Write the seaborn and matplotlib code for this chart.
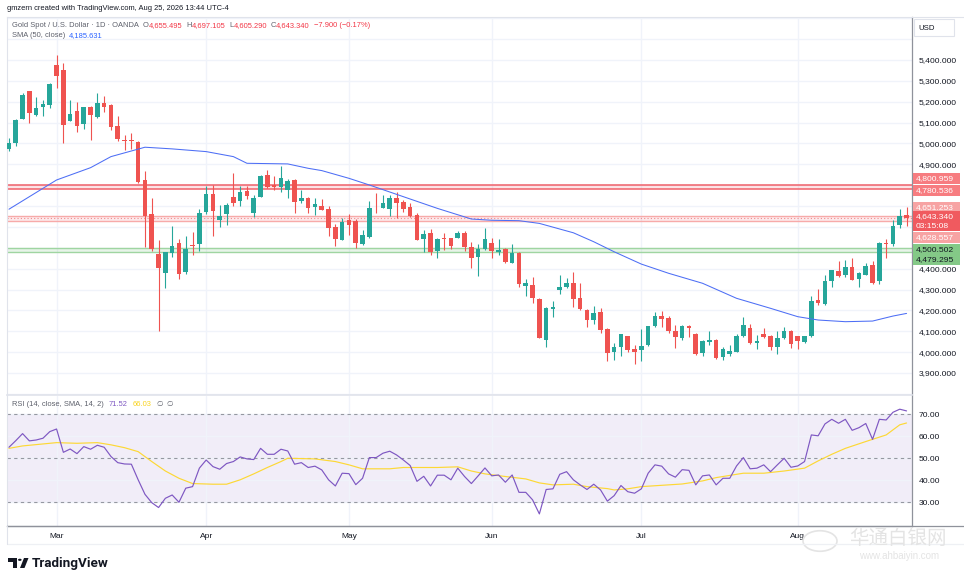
import numpy as np
import pandas as pd
import matplotlib
matplotlib.use("Agg")
import matplotlib.pyplot as plt
import seaborn as sns
from matplotlib.patches import Rectangle, Polygon, Circle
from matplotlib.lines import Line2D

# ---------------- data ----------------
opens = [4973, 5003, 5118, 5250, 5136, 5176, 5184, 5376, 5352, 5109,
         5155, 5093, 5176, 5126, 5193, 5184, 5086, 5016, 5016, 5006,
         4824, 4661, 4472, 4379, 4475, 4522, 4384, 4512, 4518, 4670,
         4758, 4635, 4661, 4744, 4726, 4774, 4667, 4744, 4849, 4803,
         4792, 4779, 4825, 4725, 4741, 4696, 4700, 4684, 4599, 4538,
         4633, 4628, 4519, 4551, 4693, 4693, 4687, 4741, 4719, 4695,
         4657, 4541, 4570, 4485, 4545, 4546, 4549, 4570, 4505, 4455,
         4493, 4522, 4481, 4493, 4428, 4473, 4319, 4324, 4253, 4058,
         4207, 4298, 4310, 4329, 4258, 4201, 4154, 4191, 4110, 4002,
         4027, 4078, 4015, 4012, 4036, 4124, 4175, 4163, 4100, 4070,
         4124, 4089, 3996, 4049, 4060, 3977, 3993, 4003, 4076, 4118,
         4044, 4089, 4078, 4025, 4068, 4102, 4076, 4049, 4076, 4249,
         4233, 4340, 4388, 4369, 4407, 4351, 4372, 4417, 4342, 4524,
         4516, 4609, 4655.495]
highs = [5024, 5115, 5240, 5253, 5221, 5208, 5288, 5424, 5384, 5208,
         5198, 5176, 5179, 5243, 5227, 5187, 5131, 5040, 5048, 5011,
         4867, 4738, 4536, 4480, 4603, 4544, 4555, 4576, 4688, 4797,
         4800, 4707, 4715, 4859, 4798, 4795, 4752, 4848, 4872, 4843,
         4893, 4829, 4832, 4776, 4745, 4741, 4732, 4700, 4612, 4645,
         4661, 4637, 4585, 4724, 4765, 4753, 4751, 4769, 4729, 4717,
         4665, 4585, 4590, 4549, 4572, 4546, 4580, 4580, 4527, 4516,
         4594, 4545, 4541, 4498, 4516, 4481, 4351, 4362, 4260, 4218,
         4244, 4369, 4356, 4383, 4329, 4209, 4222, 4210, 4116, 4044,
         4086, 4078, 4033, 4113, 4124, 4193, 4199, 4172, 4132, 4132,
         4132, 4092, 4057, 4100, 4063, 4025, 4033, 4086, 4167, 4137,
         4081, 4116, 4084, 4102, 4121, 4108, 4076, 4076, 4268, 4302,
         4372, 4393, 4436, 4441, 4449, 4385, 4428, 4436, 4529, 4542,
         4633, 4686, 4697.105]
lows = [4965, 4987, 5115, 5099, 5131, 5133, 5171, 5267, 5000, 5109,
        5056, 5067, 5019, 5123, 5152, 5064, 5013, 4968, 4973, 4811,
        4504, 4483, 4101, 4307, 4456, 4350, 4376, 4464, 4485, 4661,
        4557, 4600, 4611, 4701, 4701, 4734, 4648, 4744, 4787, 4776,
        4768, 4739, 4667, 4717, 4667, 4659, 4679, 4556, 4509, 4538,
        4561, 4500, 4513, 4548, 4668, 4689, 4652, 4644, 4671, 4649,
        4537, 4479, 4465, 4452, 4489, 4492, 4549, 4484, 4401, 4367,
        4489, 4452, 4465, 4428, 4425, 4313, 4268, 4236, 4068, 4025,
        4169, 4278, 4306, 4217, 4201, 4121, 4134, 4092, 3958, 3961,
        3982, 4001, 3943, 3959, 4030, 4121, 4121, 4092, 4020, 4057,
        4073, 3985, 3982, 4033, 3969, 3961, 3982, 3999, 4073, 4041,
        4017, 4068, 4012, 3993, 4065, 4020, 4017, 4044, 4073, 4225,
        4228, 4313, 4358, 4361, 4345, 4310, 4369, 4327, 4326, 4452,
        4510, 4596, 4605.290]
closes = [5000, 5112, 5232, 5144, 5168, 5189, 5285, 5325, 5088, 5142,
          5085, 5174, 5137, 5193, 5176, 5080, 5021, 5010, 5010, 4816,
          4651, 4493, 4402, 4478, 4507, 4376, 4493, 4509, 4667, 4758,
          4677, 4651, 4704, 4717, 4766, 4749, 4741, 4845, 4792, 4792,
          4834, 4819, 4720, 4741, 4693, 4709, 4681, 4596, 4541, 4623,
          4610, 4522, 4559, 4693, 4689, 4717, 4737, 4716, 4685, 4653,
          4537, 4567, 4479, 4541, 4541, 4508, 4570, 4505, 4452, 4493,
          4541, 4484, 4489, 4433, 4477, 4325, 4330, 4260, 4068, 4210,
          4218, 4311, 4329, 4255, 4206, 4153, 4190, 4106, 3996, 4025,
          4086, 4011, 4001, 4030, 4124, 4174, 4161, 4103, 4073, 4124,
          4118, 3993, 4052, 4057, 3972, 4017, 4004, 4078, 4129, 4044,
          4052, 4073, 4025, 4068, 4102, 4041, 4054, 4076, 4246, 4236,
          4343, 4393, 4366, 4409, 4348, 4377, 4415, 4331, 4524, 4519,
          4606, 4654, 4643.340]

sma50_idx = [0, 3, 7, 12, 15, 20, 24, 29, 33, 35, 41, 44, 46, 50, 53, 58, 63,
             68, 71, 75, 78, 83, 86, 89, 93, 97, 102, 107, 112, 116, 119, 123,
             127, 130, 132]
sma50_val = [4685, 4745, 4825, 4884, 4937, 4982, 4974, 4961, 4937, 4905, 4902,
             4881, 4870, 4833, 4801, 4745, 4689, 4638, 4632, 4630, 4617, 4572,
             4529, 4481, 4422, 4378, 4330, 4258, 4210, 4170, 4154, 4146, 4149,
             4173, 4185.631]

rsi = [55.0, 58.0, 61.2, 57.9, 58.3, 59.1, 62.1, 63.3, 52.7, 54.2,
       52.1, 55.3, 54.1, 55.9, 55.0, 50.8, 48.0, 47.4, 47.3, 40.2,
       33.6, 29.8, 27.6, 31.8, 33.3, 30.0, 36.4, 37.1, 45.5, 49.2,
       46.2, 45.0, 47.6, 48.5, 50.6, 49.7, 49.4, 54.5, 51.8, 51.8,
       54.1, 53.3, 47.3, 48.0, 45.8, 46.4, 44.7, 40.2, 37.4, 43.2,
       43.0, 38.0, 40.9, 50.3, 50.3, 52.3, 53.2, 51.5, 49.2, 46.7,
       39.5, 41.8, 37.4, 42.3, 42.3, 40.2, 45.5, 41.7, 38.5, 42.0,
       45.6, 42.0, 42.4, 39.1, 42.4, 34.5, 34.5, 31.1, 24.7, 35.8,
       36.1, 42.7, 43.9, 40.2, 37.9, 35.8, 38.2, 35.6, 30.5, 33.0,
       37.6, 34.8, 34.1, 36.1, 43.2, 47.0, 46.4, 42.9, 41.4, 44.8,
       44.5, 37.9, 42.0, 42.4, 37.9, 40.9, 40.9, 46.5, 50.3, 45.2,
       45.5, 47.0, 43.9, 47.0, 50.0, 45.9, 46.5, 48.5, 60.6, 60.2,
       65.6, 67.7, 65.9, 67.7, 62.7, 63.9, 65.8, 58.6, 67.7, 67.4,
       70.9, 72.3, 71.52]

rsi_sma_idx = [0, 2, 5, 7, 10, 13, 15, 17, 19, 21, 23, 25, 27, 30, 32, 34, 36,
               38, 40, 41, 45, 48, 50, 52, 56, 58, 63, 66, 68, 70, 73, 76, 78,
               80, 83, 85, 88, 89, 91, 93, 97, 99, 102, 104, 108, 111, 114, 117,
               119, 121, 123, 126, 129, 131, 132]
rsi_sma_val = [54.5, 55.6, 56.5, 57.1, 56.8, 57.1, 56.1, 54.8, 53.0, 48.5, 44.2,
               40.9, 38.5, 38.2, 38.2, 40.2, 42.9, 45.8, 48.5, 50.0, 49.7, 48.5,
               47.0, 45.2, 45.2, 45.8, 45.8, 46.1, 44.2, 42.9, 41.7, 40.6, 38.8,
               37.9, 38.2, 37.1, 36.2, 35.6, 36.1, 37.1, 37.9, 38.3, 39.7, 41.2,
               43.2, 43.2, 44.2, 45.5, 48.8, 51.8, 54.5, 57.6, 60.6, 65.2, 66.03]

month_idx = [7, 29, 50, 71, 93, 116]
month_lbl = ["Mar", "Apr", "May", "Jun", "Jul", "Aug"]

red_zone = [4800.959, 4780.536]
price_zone = [4651.253, 4628.557]
last_price = 4643.340
green_zone = [4500.502, 4479.295]
sma_last = 4185.631
rsi_last = 71.52
rsi_sma_last = 66.03

# ---------------- style ----------------
UP = "#26a69a"
DN = "#ef5350"
GRID = "#f0f3fa"
TXT = "#131722"
GRAY = "#5d606b"
FONT = ["Liberation Sans", "DejaVu Sans"]

sns.set_theme(style="white")
plt.rcParams["font.family"] = FONT
plt.rcParams["axes.unicode_minus"] = True

W, H, DPI = 964, 582, 100
fig = plt.figure(figsize=(W / DPI, H / DPI), dpi=DPI, facecolor="white")


def fx(px):
    return px / W


def fy(py):
    return 1 - py / H


L_PX, R_PX = 7, 912
ax = fig.add_axes([fx(L_PX), fy(395), fx(R_PX) - fx(L_PX), fy(17) - fy(395)])
axr = fig.add_axes([fx(L_PX), fy(526), fx(R_PX) - fx(L_PX), fy(396) - fy(526)], sharex=ax)

n = len(closes)
xi = np.arange(n)
o = np.array(opens, float)
h = np.array(highs, float)
l = np.array(lows, float)
c = np.array(closes, float)

df = pd.DataFrame({"i": xi, "open": o, "high": h, "low": l, "close": c, "rsi": rsi})

# ---------------- main pane ----------------
ax.set_xlim(-0.29, 132.8)
ax.set_ylim(3794.7, 5606)

# zones
ax.axhspan(red_zone[1], red_zone[0], color="#f23645", alpha=0.13, lw=0, zorder=1)
for v in red_zone:
    ax.axhline(v, color="#f0616a", lw=1.1, zorder=1.5)
ax.axhspan(price_zone[1], price_zone[0], color="#f23645", alpha=0.10, lw=0, zorder=1)
for v in price_zone:
    ax.axhline(v, color="#f7aaa9", lw=1.0, zorder=1.5)
ax.axhline(last_price, color="#f28a8a", lw=0.8, ls=(0, (1, 2)), zorder=1.6)
ax.axhspan(green_zone[1], green_zone[0], color="#4caf50", alpha=0.13, lw=0, zorder=1)
for v in green_zone:
    ax.axhline(v, color="#9fd5a1", lw=1.0, zorder=1.5)

# candles
cols = np.where(c >= o, UP, DN)
ax.vlines(xi, l, h, colors=cols, lw=0.8, zorder=3)
body_lo = np.minimum(o, c)
body_h = np.maximum(np.abs(c - o), 4.0)
ax.bar(xi, body_h, bottom=body_lo, width=0.68, color=cols, linewidth=0, zorder=4)

# SMA 50
sns.lineplot(x=sma50_idx, y=sma50_val, ax=ax, color="#4d6ef5", lw=0.75,
             estimator=None, zorder=5)

ax.set_yticks(np.arange(3800, 5601, 100))
ylabels = []
for v in np.arange(3800, 5601, 100):
    ylabels.append(f"{v:,.3f}" if (3900 <= v <= 5400 and not 4500 <= v <= 4800) else "")
ax.set_yticklabels(ylabels)
ax.yaxis.tick_right()
ax.tick_params(axis="y", length=0, pad=5, labelsize=6.1, labelcolor=TXT)
ax.tick_params(axis="x", length=0, labelbottom=False)
ax.set_xticks(month_idx)
ax.grid(True, color=GRID, lw=1.0, zorder=0)
ax.set_axisbelow(True)
ax.set_xlabel("")
ax.set_ylabel("")
for s in ["left", "top"]:
    ax.spines[s].set_color("#e0e3eb")
    ax.spines[s].set_linewidth(0.8)
ax.spines["bottom"].set_color("#e0e3eb")
ax.spines["bottom"].set_linewidth(1.2)
ax.spines["right"].set_color("#8f929b")
ax.spines["right"].set_linewidth(0.9)

# ---------------- RSI pane ----------------
axr.set_ylim(19.2, 78.3)
axr.axhspan(30, 70, color="#7e57c2", alpha=0.10, lw=0, zorder=0.5)
for v in [70, 50, 30]:
    axr.axhline(v, color="#9598a1", lw=0.8, ls=(0, (3, 3)), zorder=1)
sns.lineplot(data=df, x="i", y="rsi", ax=axr, color="#7e57c2", lw=0.85,
             estimator=None, zorder=4)
sns.lineplot(x=rsi_sma_idx, y=rsi_sma_val, ax=axr, color="#fdd835", lw=0.85,
             estimator=None, zorder=3)
axr.set_yticks([30, 40, 50, 60, 70])
axr.set_yticklabels([f"{v:.2f}" for v in [30, 40, 50, 60, 70]])
axr.yaxis.tick_right()
axr.tick_params(axis="y", length=0, pad=5, labelsize=6.1, labelcolor=TXT)
axr.set_xticks(month_idx)
axr.set_xticklabels(month_lbl)
axr.tick_params(axis="x", length=0, pad=5, labelsize=6.0, labelcolor=TXT)
axr.grid(True, color=GRID, lw=1.0, zorder=0)
axr.set_axisbelow(True)
axr.set_xlabel("")
axr.set_ylabel("")
axr.spines["left"].set_color("#e0e3eb")
axr.spines["left"].set_linewidth(0.8)
axr.spines["top"].set_visible(False)
axr.spines["bottom"].set_color("#8f929b")
axr.spines["bottom"].set_linewidth(0.9)
axr.spines["right"].set_color("#8f929b")
axr.spines["right"].set_linewidth(0.9)

# frame lines
fig.add_artist(Line2D([fx(L_PX), fx(964)], [fy(526), fy(526)], color="#8f929b", lw=0.9))
fig.add_artist(Line2D([fx(L_PX), fx(964)], [fy(544), fy(544)], color="#eef0f4", lw=0.9))
fig.add_artist(Line2D([fx(L_PX), fx(L_PX)], [fy(526), fy(544)], color="#e0e3eb", lw=0.8))
fig.add_artist(Line2D([fx(R_PX), fx(964)], [fy(17), fy(17)], color="#e0e3eb", lw=0.8))

# ---------------- texts ----------------
renderer = fig.canvas.get_renderer()


def flow(x_px, y_px, pieces, size):
    x = x_px
    for s, col, gap in pieces:
        t = fig.text(fx(x), fy(y_px), s, color=col, fontsize=size, family=FONT,
                     va="center", ha="left")
        x += t.get_window_extent(renderer).width + gap


fig.text(fx(7), fy(8.3), "gmzern created with TradingView.com, Aug 25, 2026 13:44 UTC-4",
         fontsize=5.4, color=TXT, va="center", ha="left")

RED = "#f23645"
flow(11.7, 25.7, [
    ("Gold Spot / U.S. Dollar · 1D · OANDA", GRAY, 4),
    ("O", GRAY, 0), (f"{opens[-1]:,.3f}", RED, 4),
    ("H", GRAY, 0), (f"{highs[-1]:,.3f}", RED, 4),
    ("L", GRAY, 0), (f"{lows[-1]:,.3f}", RED, 4),
    ("C", GRAY, 0), (f"{closes[-1]:,.3f}", RED, 4),
    ("\u22127.900 (\u22120.17%)", RED, 0),
], 5.4)
flow(11.7, 35.7, [("SMA (50, close)", GRAY, 4), (f"{sma_last:,.3f}", "#2962ff", 0)], 5.4)
flow(11.7, 405, [("RSI (14, close, SMA, 14, 2)", GRAY, 5),
                 (f"{rsi_last:.2f}", "#7e57c2", 5),
                 (f"{rsi_sma_last:.2f}", "#f9d21b", 5),
                 ("\u2205", GRAY, 4), ("\u2205", GRAY, 0)], 5.4)

# USD box
fig.add_artist(Rectangle((fx(914), fy(36)), fx(954) - fx(914), 17 / H,
                         transform=fig.transFigure, facecolor="white",
                         edgecolor="#e0e3eb", lw=0.8))
fig.text(fx(918), fy(28), "USD", fontsize=5.6, color=TXT, va="center", ha="left")


# price tags on the scale
def ypix(price):
    return H - ax.transData.transform((0, price))[1]


def tag(lines, price, shift, bg, fg, hpx=11):
    cy = ypix(price) + shift
    top = cy - hpx / 2
    fig.add_artist(Rectangle((fx(912.5), fy(top + hpx)), fx(960) - fx(912.5), hpx / H,
                             transform=fig.transFigure, facecolor=bg,
                             edgecolor="none", zorder=5))
    for k, s in enumerate(lines):
        fig.text(fx(916), fy(top + (k + 0.5) * hpx / len(lines)), s, fontsize=6.1,
                 color=fg, va="center", ha="left", zorder=6)


tag([f"{red_zone[0]:,.3f}"], red_zone[0], -6.8, "#f77c80", "white")
tag([f"{red_zone[1]:,.3f}"], red_zone[1], 0.9, "#f77c80", "white")
tag([f"{price_zone[0]:,.3f}"], price_zone[0], -9.1, "#f7a3a3", "white")
tag([f"{last_price:,.3f}", "03:15:08"], last_price, 3.6, "#f05a5f", "white", hpx=20)
tag([f"{price_zone[1]:,.3f}"], price_zone[1], 17, "#f7a3a3", "white")
tag([f"{green_zone[0]:,.3f}"], green_zone[0], 2.1, "#84c987", TXT)
tag([f"{green_zone[1]:,.3f}"], green_zone[1], 7.7, "#84c987", TXT)

# watermark
fig.add_artist(Circle((fx(820), fy(541)), 17 / W, transform=fig.transFigure,
                      facecolor="none", edgecolor="#e4e4e4", lw=1.2))
fig.text(fx(898), fy(538), "华通白银网", fontsize=14, color="#e4e4e4",
         family=["Noto Sans CJK SC", "DejaVu Sans"], va="center", ha="center")
fig.text(fx(899), fy(556), "www.ahbaiyin.com", fontsize=7, color="#e4e4e4",
         va="center", ha="center")

# TradingView logo
lc = TXT
fig.add_artist(Polygon([(fx(8), fy(558)), (fx(17), fy(558)), (fx(17), fy(568)),
                        (fx(13), fy(568)), (fx(13), fy(561.5)), (fx(8), fy(561.5))],
                       closed=True, transform=fig.transFigure, facecolor=lc, edgecolor="none"))
fig.add_artist(Circle((fx(19.8), fy(559.8)), 1.8 / W, transform=fig.transFigure,
                      facecolor=lc, edgecolor="none"))
fig.add_artist(Polygon([(fx(24), fy(558)), (fx(28.5), fy(558)), (fx(24.5), fy(568)),
                        (fx(20), fy(568))], closed=True, transform=fig.transFigure,
                       facecolor=lc, edgecolor="none"))
fig.text(fx(32), fy(563), "TradingView", fontsize=9.7, color=lc,
         family=["Roboto", "DejaVu Sans"], fontweight="bold", va="center", ha="left")

fig.savefig("out.png", dpi=DPI, facecolor="white")
